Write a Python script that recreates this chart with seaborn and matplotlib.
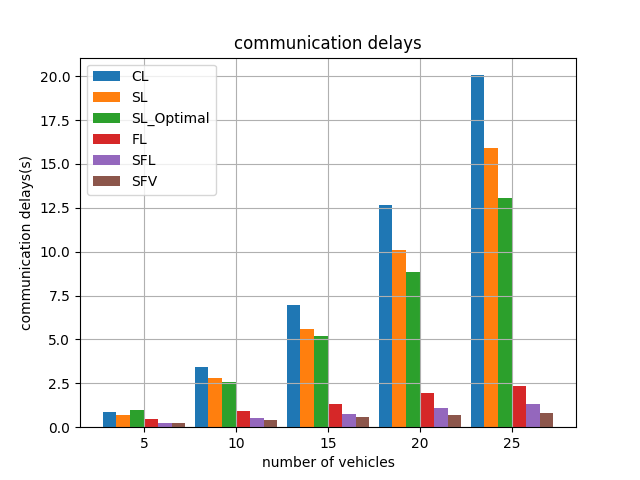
import numpy as np
import pandas as pd
import matplotlib
matplotlib.use("Agg")
import matplotlib.pyplot as plt
import seaborn as sns

vehicles = [5, 10, 15, 20, 25]
methods = ["CL", "SL", "SL_Optimal", "FL", "SFL", "SFV"]

cl = [0.87, 3.44, 6.95, 12.65, 20.06]
sl = [0.68, 2.81, 5.58, 10.09, 15.90]
sl_opt = [0.97, 2.56, 5.18, 8.83, 13.07]
fl = [0.46, 0.91, 1.31, 1.94, 2.36]
sfl = [0.23, 0.51, 0.74, 1.08, 1.33]
sfv = [0.23, 0.40, 0.57, 0.68, 0.82]

series = [cl, sl, sl_opt, fl, sfl, sfv]

# long-form table for seaborn
rows = []
for name, vals in zip(methods, series):
    for v, d in zip(vehicles, vals):
        rows.append({"vehicles": str(v), "method": name, "delay": d})
df = pd.DataFrame(rows)

fig, ax = plt.subplots(figsize=(6.4, 4.8), dpi=100)
sns.barplot(data=df, x="vehicles", y="delay", hue="method", hue_order=methods,
            palette="tab10", saturation=1, width=0.9, errorbar=None, ax=ax)

ax.set_xlim(-0.695, 4.695)
ax.grid(True)
ax.set_title("communication delays")
ax.set_xlabel("number of vehicles")
ax.set_ylabel("communication delays(s)")
sns.move_legend(ax, "upper left", title=None)

plt.savefig("out.png")
